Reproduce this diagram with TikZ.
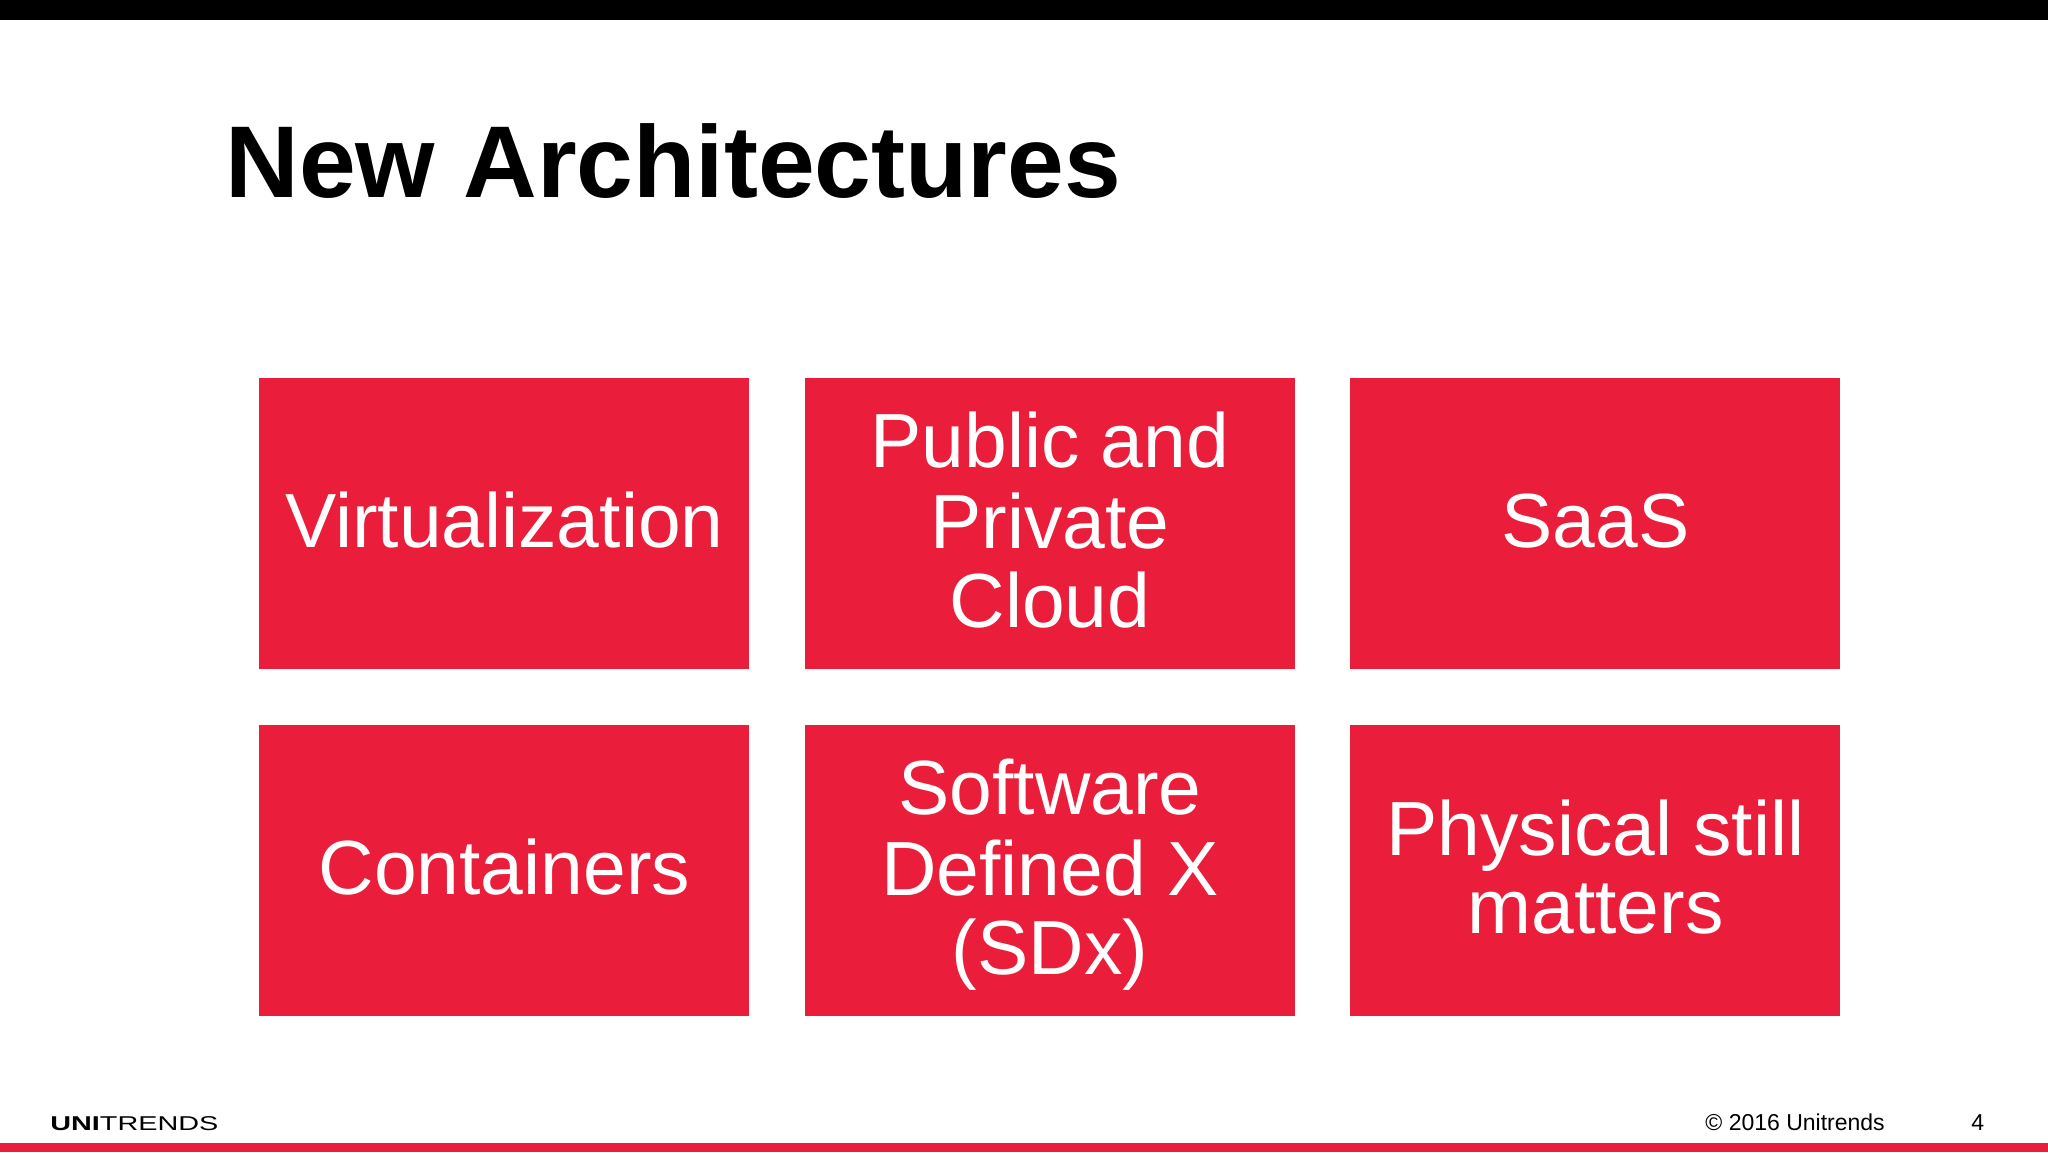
\documentclass[tikz,border=0pt]{standalone}
\usepackage{fontspec}
\setmainfont{Liberation Sans}
\definecolor{ured}{HTML}{EA1D3B}
\tikzset{
  redbox/.style={fill=ured,draw=none,minimum width=245pt,minimum height=145.5pt,inner sep=0pt,anchor=north west},
  boxtext/.style={inner sep=0pt,text=white,align=center,font=\fontsize{38.4}{39.4}\selectfont},
  bar/.style={fill=#1,draw=none}
}
\newcommand{\boxlabel}[2]{\node[boxtext] at ([yshift=-3.75pt]#1.center) {\strut #2\strut};}
\begin{document}
\begin{tikzpicture}[x=0.5pt,y=-0.5pt]
\useasboundingbox (0,0) rectangle (2048,1152);
\fill[white] (0,0) rectangle (2048,1152);
\fill[bar=black] (0,0) rectangle (2048,20);
\fill[bar=ured] (0,1143) rectangle (2048,1152);
\node[anchor=base west,inner sep=0pt,font=\fontsize{51}{58}\selectfont\bfseries] (title) at (225,197) {New Architectures};
\node[redbox] (a) at (259,378) {};
\node[redbox] (b) at (804.5,378) {};
\node[redbox] (c) at (1350,378) {};
\node[redbox] (d) at (259,725) {};
\node[redbox] (e) at (804.5,725) {};
\node[redbox] (f) at (1350,725) {};
\boxlabel{a}{Virtualization}
\boxlabel{b}{Public and\\Private\\Cloud}
\boxlabel{c}{SaaS}
\boxlabel{d}{Containers}
\boxlabel{e}{Software\\Defined X\\(SDx)}
\boxlabel{f}{Physical still\\matters}
\node[anchor=base west,inner sep=0pt,font=\fontsize{11.5}{14}\selectfont] (copy) at (1705,1130) {© 2016 Unitrends};
\node[anchor=base west,inner sep=0pt,font=\fontsize{11.5}{14}\selectfont] (num) at (1971,1130) {4};
\node[anchor=base west,inner sep=0pt] (logo) at (50,1130) {\scalebox{1.44}[1]{\fontsize{10}{12}\selectfont\textbf{UNI}TRENDS}};
\end{tikzpicture}
\end{document}
